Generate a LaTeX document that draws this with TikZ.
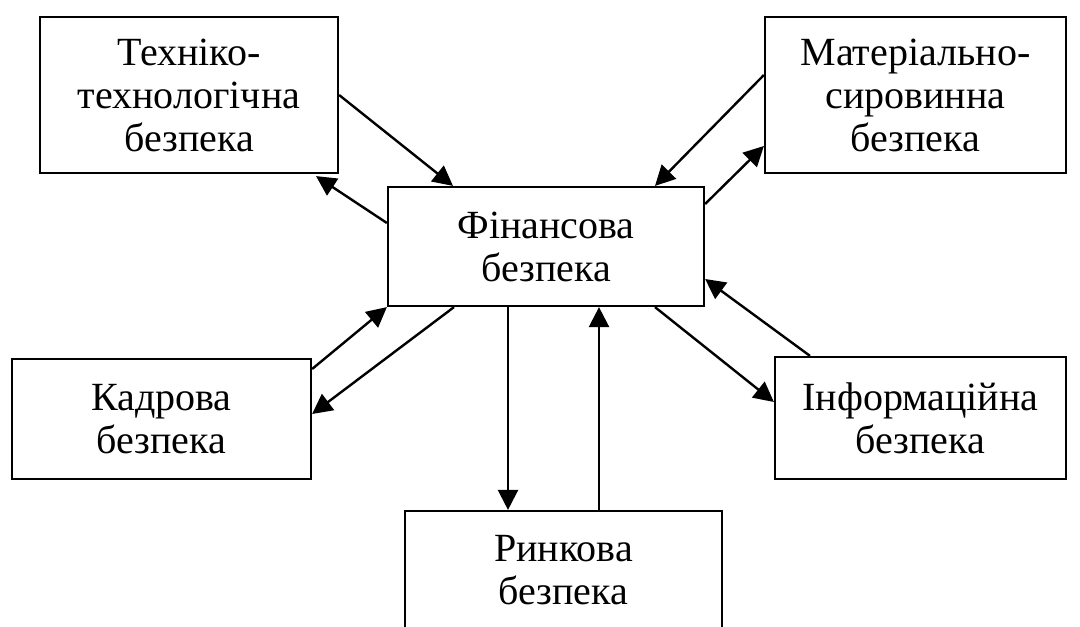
\documentclass[tikz,border=0pt]{standalone}
\usepackage{fontspec}
\setmainfont{Liberation Serif}
\usetikzlibrary{arrows.meta,calc}
\begin{document}
\begin{tikzpicture}[x=0.5pt,y=-0.5pt,
  box/.style={draw,line width=1.1pt,align=center,inner sep=0pt,
    font=\fontsize{20pt}{21.5pt}\selectfont},
  arr/.style={line width=1.2pt,-{Triangle[length=10pt,width=10pt]}}]
\clip (0,0) rectangle (1080,626);
\fill[white] (0,0) rectangle (1080,626);
\node[box,minimum width=149pt,minimum height=78pt] (tl) at (189,95) {Техніко-\\технологічна\\безпека};
\node[box,minimum width=150.5pt,minimum height=78pt] (tr) at (915.5,95) {Матеріально-\\сировинна\\безпека};
\node[box,minimum width=158pt,minimum height=59.5pt] (c) at (546,246.5) {Фінансова\\безпека};
\node[box,minimum width=149.5pt,minimum height=60pt] (k) at (161.5,419) {Кадрова\\безпека};
\node[box,minimum width=145.5pt,minimum height=61pt] (i) at (920.5,418) {Інформаційна\\безпека};
\node[box,minimum width=158.5pt,minimum height=59pt] (r) at (563.5,570) {Ринкова\\безпека};
% top-left
\draw[arr] (tl.east) -- ($(c.north)+(-93,0)$);
\draw[arr] ($(c.west)+(0,-23.5)$) -- ($(tl.south)+(127,2)$);
% top-right
\draw[arr] ($(tr.west)+(0,-20)$) -- ($(c.north)+(109,0)$);
\draw[arr] ($(c.east)+(0,-42.5)$) -- ($(tr.west)+(0,51)$);
% left
\draw[arr] ($(k.east)+(0,-50)$) -- (c.south west);
\draw[arr] ($(c.south)+(-92,0)$) -- ($(k.east)+(0,-5)$);
% bottom
\draw[arr] ($(c.south)+(-38,0)$) -- ($(r.north)+(-55.5,0)$);
\draw[arr] ($(r.north)+(35.5,0)$) -- ($(c.south)+(53,0)$);
% right
\draw[arr] ($(i.north)+(-110.5,0)$) -- ($(c.east)+(0,32.5)$);
\draw[arr] ($(c.south)+(109,0)$) -- ($(i.west)+(0,-16)$);
\end{tikzpicture}
\end{document}
